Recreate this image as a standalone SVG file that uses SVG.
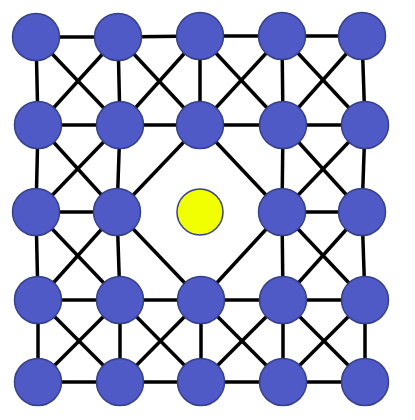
<svg xmlns="http://www.w3.org/2000/svg" width="415" height="420" viewBox="0 0 415 420">
<style>
.e line{stroke:#000;stroke-width:3.5}
.n circle{fill:#505AC6;stroke:#35408C;stroke-width:1.5}
#n22 circle{fill:#F2FF00;stroke:#35408C;stroke-width:1.5}
</style>
<rect width="415" height="420" fill="#fff"/>
<g class="e" id="edges">
<!-- horizontals -->
<line x1="36" y1="37" x2="118" y2="37"/><line x1="118" y1="37" x2="200" y2="36"/><line x1="200" y1="36" x2="282" y2="36"/><line x1="282" y1="36" x2="362" y2="36"/>
<line x1="38" y1="125" x2="120" y2="125"/><line x1="120" y1="125" x2="200" y2="125"/><line x1="200" y1="125" x2="283" y2="125"/><line x1="283" y1="125" x2="365" y2="125"/>
<line x1="36" y1="212" x2="117" y2="212"/><line x1="282" y1="212" x2="362" y2="212"/>
<line x1="38" y1="300" x2="120" y2="300"/><line x1="120" y1="300" x2="201" y2="300"/><line x1="201" y1="300" x2="283" y2="300"/><line x1="283" y1="300" x2="365" y2="300"/>
<line x1="38" y1="382" x2="120" y2="382"/><line x1="120" y1="382" x2="201" y2="382"/><line x1="201" y1="382" x2="283" y2="382"/><line x1="283" y1="382" x2="365" y2="382"/>
<!-- verticals -->
<line x1="36" y1="37" x2="38" y2="125"/><line x1="38" y1="125" x2="36" y2="212"/><line x1="36" y1="212" x2="38" y2="300"/><line x1="38" y1="300" x2="38" y2="382"/>
<line x1="118" y1="37" x2="120" y2="125"/><line x1="120" y1="125" x2="117" y2="212"/><line x1="117" y1="212" x2="120" y2="300"/><line x1="120" y1="300" x2="120" y2="382"/>
<line x1="200" y1="36" x2="200" y2="125"/><line x1="201" y1="300" x2="201" y2="382"/>
<line x1="282" y1="36" x2="283" y2="125"/><line x1="283" y1="125" x2="282" y2="212"/><line x1="282" y1="212" x2="283" y2="300"/><line x1="283" y1="300" x2="283" y2="382"/>
<line x1="362" y1="36" x2="365" y2="125"/><line x1="365" y1="125" x2="362" y2="212"/><line x1="362" y1="212" x2="365" y2="300"/><line x1="365" y1="300" x2="365" y2="382"/>
<!-- diagonals row 0-1 -->
<line x1="36" y1="37" x2="120" y2="125"/><line x1="118" y1="37" x2="38" y2="125"/>
<line x1="118" y1="37" x2="200" y2="125"/><line x1="200" y1="36" x2="120" y2="125"/>
<line x1="200" y1="36" x2="283" y2="125"/><line x1="282" y1="36" x2="200" y2="125"/>
<line x1="282" y1="36" x2="365" y2="125"/><line x1="362" y1="36" x2="283" y2="125"/>
<!-- diagonals row 1-2 -->
<line x1="38" y1="125" x2="117" y2="212"/><line x1="120" y1="125" x2="36" y2="212"/>
<line x1="200" y1="125" x2="117" y2="212"/><line x1="200" y1="125" x2="282" y2="212"/>
<line x1="283" y1="125" x2="362" y2="212"/><line x1="365" y1="125" x2="282" y2="212"/>
<!-- diagonals row 2-3 -->
<line x1="36" y1="212" x2="120" y2="300"/><line x1="117" y1="212" x2="38" y2="300"/>
<line x1="117" y1="212" x2="201" y2="300"/><line x1="282" y1="212" x2="201" y2="300"/>
<line x1="282" y1="212" x2="365" y2="300"/><line x1="362" y1="212" x2="283" y2="300"/>
<!-- diagonals row 3-4 -->
<line x1="38" y1="300" x2="120" y2="382"/><line x1="120" y1="300" x2="38" y2="382"/>
<line x1="120" y1="300" x2="201" y2="382"/><line x1="201" y1="300" x2="120" y2="382"/>
<line x1="201" y1="300" x2="283" y2="382"/><line x1="283" y1="300" x2="201" y2="382"/>
<line x1="283" y1="300" x2="365" y2="382"/><line x1="365" y1="300" x2="283" y2="382"/>
</g>
<g class="n" id="n00"><circle cx="36" cy="37" r="23.5"/></g>
<g class="n" id="n01"><circle cx="118" cy="37" r="23.5"/></g>
<g class="n" id="n02"><circle cx="200" cy="36" r="23.5"/></g>
<g class="n" id="n03"><circle cx="282" cy="36" r="23.5"/></g>
<g class="n" id="n04"><circle cx="362" cy="36" r="23.5"/></g>
<g class="n" id="n10"><circle cx="38" cy="125" r="23.5"/></g>
<g class="n" id="n11"><circle cx="120" cy="125" r="23.5"/></g>
<g class="n" id="n12"><circle cx="200" cy="125" r="23.5"/></g>
<g class="n" id="n13"><circle cx="283" cy="125" r="23.5"/></g>
<g class="n" id="n14"><circle cx="365" cy="125" r="23.5"/></g>
<g class="n" id="n20"><circle cx="36" cy="212" r="23.5"/></g>
<g class="n" id="n21"><circle cx="117" cy="212" r="23.5"/></g>
<g id="n22"><circle cx="200" cy="212" r="23"/></g>
<g class="n" id="n23"><circle cx="282" cy="212" r="23.5"/></g>
<g class="n" id="n24"><circle cx="362" cy="212" r="23.5"/></g>
<g class="n" id="n30"><circle cx="38" cy="300" r="23.5"/></g>
<g class="n" id="n31"><circle cx="120" cy="300" r="23.5"/></g>
<g class="n" id="n32"><circle cx="201" cy="300" r="23.5"/></g>
<g class="n" id="n33"><circle cx="283" cy="300" r="23.5"/></g>
<g class="n" id="n34"><circle cx="365" cy="300" r="23.5"/></g>
<g class="n" id="n40"><circle cx="38" cy="382" r="23.5"/></g>
<g class="n" id="n41"><circle cx="120" cy="382" r="23.5"/></g>
<g class="n" id="n42"><circle cx="201" cy="382" r="23.5"/></g>
<g class="n" id="n43"><circle cx="283" cy="382" r="23.5"/></g>
<g class="n" id="n44"><circle cx="365" cy="382" r="23.5"/></g>
</svg>
